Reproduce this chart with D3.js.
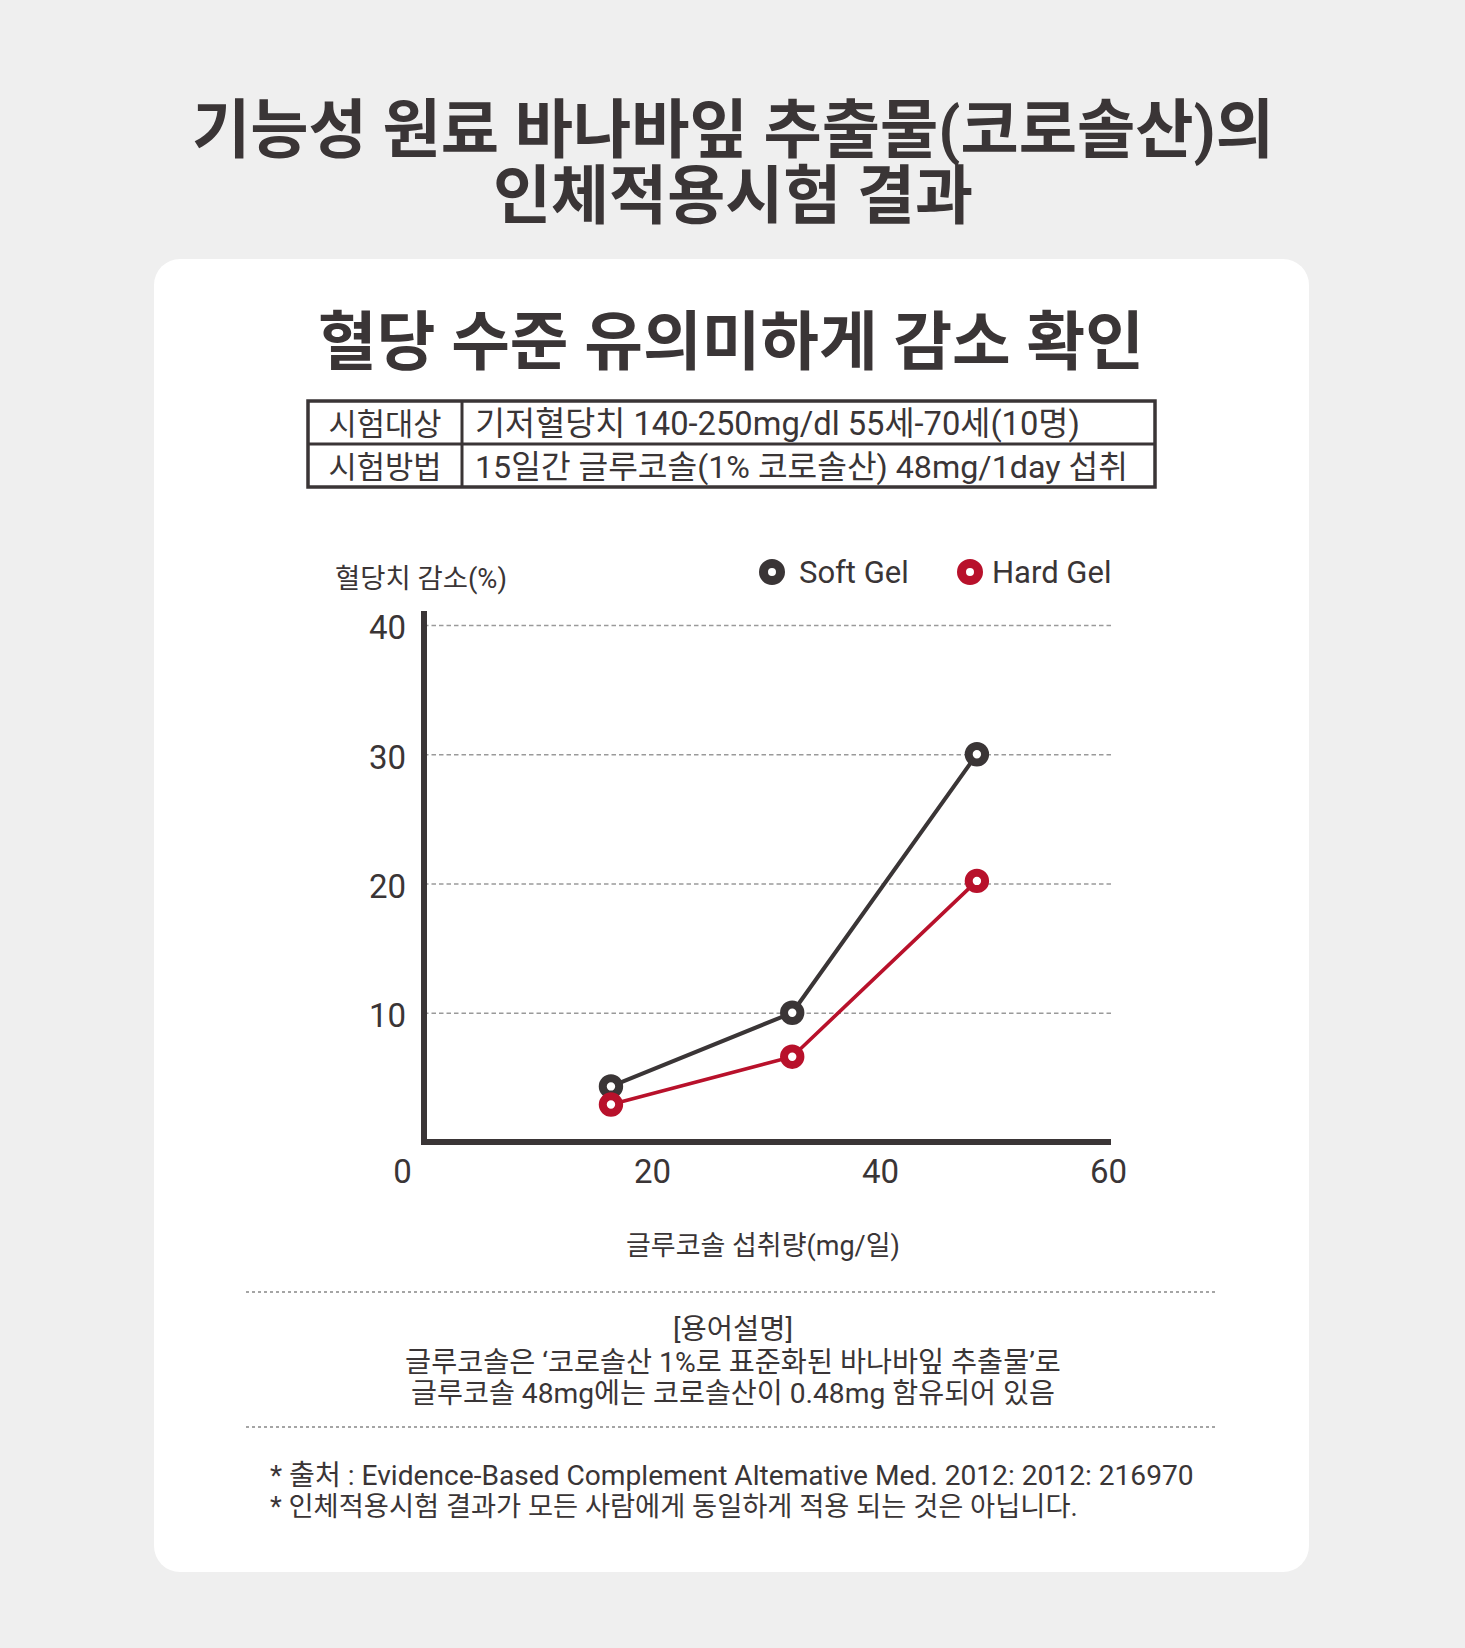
<!DOCTYPE html>
<html>
<head>
<meta charset="utf-8">
<script src="https://cdn.jsdelivr.net/npm/d3@7"></script>
<style>
  body { margin: 0; background: #efefef; }
  text { font-family: Roboto, "Noto Sans CJK KR", sans-serif; fill: #3a3536; }
</style>
</head>
<body>
<script>
// data
var doses = [16.4, 32.3, 48.5];          // 글루코솔 섭취량 (mg/일)
var softGel = [4.3, 10.0, 30.0];         // 혈당치 감소 (%)
var hardGel = [2.9, 6.6, 20.2];
var seriesNames = ["Soft Gel", "Hard Gel"];
var yTicks = [10, 20, 30, 40];
var xTicks = [0, 20, 40, 60];

var titleLines = ["기능성 원료 바나바잎 추출물(코로솔산)의", "인체적용시험 결과"];
var subTitle = "혈당 수준 유의미하게 감소 확인";
var tableRows = [
  ["시험대상", "기저혈당치 140-250mg/dl 55세-70세(10명)"],
  ["시험방법", "15일간 글루코솔(1% 코로솔산) 48mg/1day 섭취"]
];
var noteLines = ["[용어설명]", "글루코솔은 ‘코로솔산 1%로 표준화된 바나바잎 추출물’로", "글루코솔 48mg에는 코로솔산이 0.48mg 함유되어 있음"];
var sourceLines = ["* 출처 : Evidence-Based Complement Altemative Med. 2012: 2012: 216970", "* 인체적용시험 결과가 모든 사람에게 동일하게 적용 되는 것은 아닙니다."];

var width = 1465, height = 1648;
var dark = "#3a3536", red = "#b8112b";

var svg = d3.select("body").append("svg")
  .attr("width", width)
  .attr("height", height);

svg.append("rect").attr("width", width).attr("height", height).attr("fill", "#efefef");
svg.append("rect")
  .attr("x", 154).attr("y", 259)
  .attr("width", 1155).attr("height", 1313)
  .attr("rx", 26)
  .attr("fill", "#fff");

// scale font so the text spans the given width
function fit(sel, w) {
  sel.each(function() {
    var fs = parseFloat(d3.select(this).attr("font-size"));
    var len = this.getComputedTextLength();
    if (len > 0) d3.select(this).attr("font-size", (fs * w / len).toFixed(2));
  });
}

// title: one text, two lines
var titleW = [1082, 480];
var title = svg.append("text")
  .attr("text-anchor", "middle")
  .attr("font-weight", 700);
title.selectAll("tspan")
  .data(titleLines)
  .enter().append("tspan")
  .attr("x", 733)
  .attr("y", function(d, i) { return 152 + i * 66; })
  .attr("font-size", 60)
  .text(function(d) { return d; })
  .each(function(d, i) { fit(d3.select(this), titleW[i]); });

svg.append("text")
  .attr("x", 731).attr("y", 341)
  .attr("dy", "0.36em")
  .attr("text-anchor", "middle")
  .attr("font-size", 58)
  .attr("font-weight", 700)
  .text(subTitle)
  .call(fit, 826);

// table
var tX = 308, tY = 401, tW = 847, rowH = 43, colX = 462;
var tbl = svg.append("g");
tbl.append("rect")
  .attr("x", tX).attr("y", tY).attr("width", tW).attr("height", rowH * 2)
  .attr("fill", "none").attr("stroke", dark).attr("stroke-width", 3.5);
tbl.append("line")
  .attr("x1", tX).attr("x2", tX + tW).attr("y1", tY + rowH).attr("y2", tY + rowH)
  .attr("stroke", dark).attr("stroke-width", 3);
tbl.append("line")
  .attr("x1", colX).attr("x2", colX).attr("y1", tY).attr("y2", tY + rowH * 2)
  .attr("stroke", dark).attr("stroke-width", 3);
var rowW = [605, 653];
tableRows.forEach(function(r, i) {
  var cy = tY + rowH * i + rowH / 2 + 1;
  tbl.append("text")
    .attr("x", (tX + colX) / 2).attr("y", cy).attr("dy", "0.36em")
    .attr("text-anchor", "middle").attr("font-size", 28)
    .text(r[0]).call(fit, 113);
  tbl.append("text")
    .attr("x", 475).attr("y", cy).attr("dy", "0.36em")
    .attr("font-size", 28)
    .text(r[1]).call(fit, rowW[i]);
});

// chart
var x = d3.scaleLinear().domain([0, 60]).range([424, 1108]);
var y = d3.scaleLinear().domain([0, 40]).range([1142, 625]);

var yAxis = svg.append("g")
  .attr("transform", "translate(424,0)")
  .call(d3.axisLeft(y).tickValues(yTicks).tickSize(-(1112 - 424)).tickPadding(18));
yAxis.select(".domain").remove();
yAxis.selectAll("line")
  .attr("stroke", "#9a9a9a")
  .attr("stroke-width", 1.6)
  .attr("stroke-dasharray", "4.5,3");
yAxis.selectAll("text")
  .attr("font-size", 33)
  .attr("dy", "0.42em")
  .attr("font-family", "Roboto, 'Noto Sans CJK KR', sans-serif")
  .attr("fill", dark);

var xAxis = svg.append("g")
  .attr("transform", "translate(0,1142)")
  .call(d3.axisBottom(x).tickValues(xTicks).tickSize(0).tickPadding(18));
xAxis.select(".domain").remove();
xAxis.selectAll("text")
  .attr("font-size", 33)
  .attr("font-family", "Roboto, 'Noto Sans CJK KR', sans-serif")
  .attr("fill", dark)
  .attr("x", function(d) { return d === 0 ? -22 : 0; });

// axis lines
svg.append("line")
  .attr("x1", 424).attr("x2", 424).attr("y1", 611).attr("y2", 1145)
  .attr("stroke", dark).attr("stroke-width", 6);
svg.append("line")
  .attr("x1", 421).attr("x2", 1111).attr("y1", 1142).attr("y2", 1142)
  .attr("stroke", dark).attr("stroke-width", 6);

svg.append("text")
  .attr("x", 335).attr("y", 578).attr("dy", "0.36em")
  .attr("font-size", 26)
  .text("혈당치 감소(%)").call(fit, 172);

svg.append("text")
  .attr("x", 763).attr("y", 1245).attr("dy", "0.36em")
  .attr("text-anchor", "middle")
  .attr("font-size", 28)
  .text("글루코솔 섭취량(mg/일)").call(fit, 274);

// series
var series = [
  { name: seriesNames[0], values: softGel, color: dark, lw: 4 },
  { name: seriesNames[1], values: hardGel, color: red, lw: 3.6 }
];
var line = d3.line()
  .x(function(d) { return x(d[0]); })
  .y(function(d) { return y(d[1]); });

var sg = svg.selectAll(".series")
  .data(series)
  .enter().append("g")
  .attr("class", "series");
sg.append("path")
  .attr("d", function(s) { return line(d3.zip(doses, s.values)); })
  .attr("fill", "none")
  .attr("stroke", function(s) { return s.color; })
  .attr("stroke-width", function(s) { return s.lw; });
sg.each(function(s) {
  d3.select(this).selectAll("circle")
    .data(d3.zip(doses, s.values))
    .enter().append("circle")
    .attr("cx", function(d) { return x(d[0]); })
    .attr("cy", function(d) { return y(d[1]); })
    .attr("r", 8.2)
    .attr("fill", "#fff")
    .attr("stroke", s.color)
    .attr("stroke-width", 8);
});

// legend
var legX = [772, 970];
var lg = svg.selectAll(".legend")
  .data(series)
  .enter().append("g")
  .attr("class", "legend")
  .attr("transform", function(d, i) { return "translate(" + legX[i] + ",572)"; });
lg.append("circle")
  .attr("r", 8.5)
  .attr("fill", "#fff")
  .attr("stroke", function(d) { return d.color; })
  .attr("stroke-width", 9);
lg.append("text")
  .attr("x", function(d, i) { return i === 0 ? 27 : 22; })
  .attr("dy", "0.36em")
  .attr("font-size", 31)
  .text(function(d) { return d.name; });

// notes
[1292, 1427].forEach(function(yy) {
  svg.append("line")
    .attr("x1", 246).attr("x2", 1215).attr("y1", yy).attr("y2", yy)
    .attr("stroke", "#a5a5a5").attr("stroke-width", 2)
    .attr("stroke-dasharray", "3,3");
});

var noteY = [1329, 1362, 1393], noteW = [120, 656, 644];
noteLines.forEach(function(t, i) {
  svg.append("text")
    .attr("x", 733).attr("y", noteY[i]).attr("dy", "0.36em")
    .attr("text-anchor", "middle")
    .attr("font-size", 27)
    .attr("fill", "#3f3b3c")
    .text(t).call(fit, noteW[i]);
});

var srcY = [1475, 1506], srcW = [924, 808];
sourceLines.forEach(function(t, i) {
  svg.append("text")
    .attr("x", 270).attr("y", srcY[i]).attr("dy", "0.36em")
    .attr("font-size", 27)
    .attr("fill", "#3f3b3c")
    .text(t).call(fit, srcW[i]);
});
</script>
</body>
</html>
